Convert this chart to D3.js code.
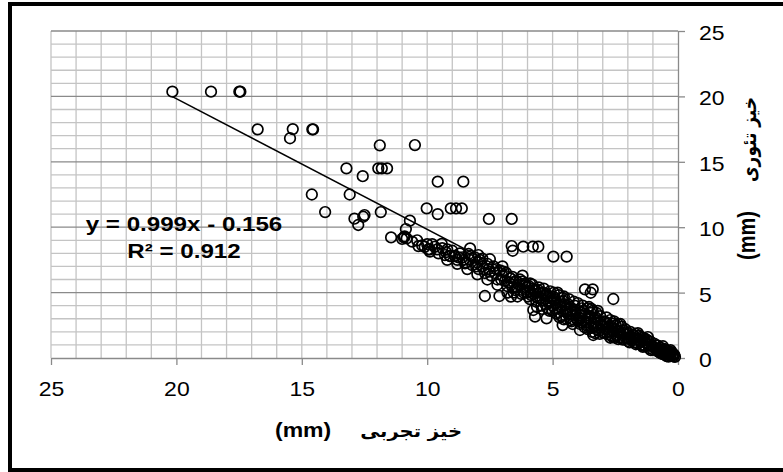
<!DOCTYPE html>
<meta charset="utf-8">
<style>
body { margin: 0; background: #fff; }
text { font-family: "Liberation Sans", Arial, sans-serif; fill: #000; }
.fa { font-family: "DejaVu Sans", sans-serif; font-weight: bold; }
.grid-minor { stroke: #c4c4c4; stroke-width: 1.3; }
.grid-major { stroke: #8a8a8a; stroke-width: 1.3; }
.axis path, .axis line { stroke: #8a8a8a; stroke-width: 1.3; }
.dot { fill: none; stroke: #000; stroke-width: 1.7; }
</style>
<body>
<script src="https://d3js.org/d3.v7.min.js"></script>
<script>

// tick values for both axes
var xTicks = [25, 20, 15, 10, 5, 0];
var yTicks = [0, 5, 10, 15, 20, 25];

// trend line
var slope = 0.999, intercept = -0.156, rSquared = 0.912;

// titles
var xTitle = "خیز تجربی";
var yTitle = "خیز تئوری";
var unit = "(mm)";

// scattered points away from the main band [experimental, theoretical]
var outlierPoints = [
  [20.16,20.36],[18.62,20.36],[17.49,20.36],[17.45,20.36],[16.76,17.48],[15.36,17.5],[15.47,16.8],
  [14.58,17.48],[14.55,17.48],[11.89,16.26],[10.49,16.28],[13.22,14.5],[12.57,13.9],[11.95,14.5],
  [11.81,14.5],[11.6,14.5],[14.6,12.5],[13.09,12.5],[14.07,11.16],[12.9,10.65],[12.75,10.17],
  [12.55,10.8],[12.5,10.93],[11.85,11.16],[9.58,13.48],[8.56,13.48],[10.02,11.44],[9.58,11.0],
  [9.06,11.44],[8.85,11.44],[8.62,11.44],[7.54,10.63],[6.63,10.63],[10.69,10.5],[10.85,9.86],
  [11.44,9.22],[10.93,9.22],[10.82,9.15],[10.35,8.56],[9.96,8.3],[9.89,8.13],[9.42,8.72],
  [9.29,7.87],[9.09,7.8],[8.89,7.8],[8.29,8.38],[7.96,7.87],[7.5,7.55],[6.63,8.56],[6.59,8.2],
  [6.17,8.51],[5.79,8.51],[5.57,8.51],[4.97,7.75],[4.44,7.75],[7.7,4.74],[7.12,4.74],[6.66,4.69],
  [2.58,4.51],[3.71,5.25],[3.4,5.25],[3.48,4.99],[5.7,3.16],[5.24,3.03],[4.6,2.52],[3.91,2.14],
  [3.38,1.76],[5.77,3.67],[8.49,7.24]
];

// dense band of points along the trend [experimental, theoretical]
var bandPoints = [
  [0.12,0.08],[0.2,0.3],[0.25,0.45],[0.3,0.2],[0.35,0.35],[0.4,0.55],[0.45,0.15],[0.5,0.4],
  [0.55,0.7],[0.6,0.3],[0.65,0.55],[0.7,0.8],[0.75,0.45],[0.8,0.95],[0.85,0.6],[0.9,0.75],
  [0.95,1.1],[1.0,0.65],[0.3,0.6],[0.6,0.9],[0.15,0.25],[0.4,0.25],[0.8,0.5],
  [1.05,0.9],[1.1,1.25],[1.15,0.75],[1.2,1.05],[1.25,1.4],[1.3,0.9],[1.35,1.2],[1.4,1.55],
  [1.45,1.0],[1.5,1.3],[1.55,1.7],[1.6,1.1],[1.65,1.45],[1.7,1.85],[1.75,1.2],[1.8,1.6],
  [1.85,1.35],[1.9,2.0],[1.95,1.5],[2.0,1.3],[1.2,1.6],[1.6,1.9],[1.4,0.85],
  [2.05,1.8],[2.1,2.2],[2.15,1.45],[2.2,1.95],[2.25,2.4],[2.3,1.6],[2.35,2.1],[2.4,2.6],
  [2.45,1.7],[2.5,2.2],[2.55,2.8],[2.6,1.6],[2.65,2.4],[2.7,2.9],[2.75,2.0],[2.8,2.6],
  [2.85,3.1],[2.9,2.2],[2.95,2.8],[3.0,1.95],[2.3,2.6],[2.8,1.8],[2.2,1.4],[2.5,1.55],
  [3.05,2.5],[3.1,3.2],[3.15,2.1],[3.2,2.9],[3.25,3.45],[3.3,2.4],[3.35,3.0],[3.4,3.6],
  [3.45,2.3],[3.5,3.2],[3.55,2.7],[3.6,3.8],[3.65,2.5],[3.7,3.4],[3.75,2.9],[3.8,4.0],
  [3.85,2.7],[3.9,3.5],[3.95,3.1],[4.0,4.2],[3.3,1.9],[3.6,2.2],[3.9,2.6],[3.2,3.6],[3.55,3.9],
  [4.05,3.0],[4.1,3.7],[4.15,4.3],[4.2,3.3],[4.25,2.8],[4.3,3.9],[4.35,4.5],[4.4,3.4],
  [4.45,3.0],[4.5,4.1],[4.55,4.7],[4.6,3.6],[4.65,3.2],[4.7,4.3],[4.75,4.8],[4.8,3.8],
  [4.85,3.4],[4.9,4.5],[4.95,5.0],[5.0,4.0],[4.3,2.9],[4.6,4.6],[4.8,5.0],[5.0,3.6],
  [5.05,4.6],[5.1,5.1],[5.15,4.2],[5.2,3.8],[5.3,4.8],[5.35,5.3],[5.4,4.4],[5.45,4.0],
  [5.5,5.0],[5.55,5.4],[5.6,4.6],[5.65,4.3],[5.7,5.2],[5.8,5.6],[5.85,4.8],[5.9,4.5],
  [5.95,5.5],[6.0,5.0],[5.25,4.9],[5.75,4.9],
  [6.1,5.7],[6.2,5.2],[6.25,4.9],[6.3,6.0],[6.4,5.4],[6.45,5.9],[6.5,5.2],[6.6,6.2],
  [6.65,5.6],[6.7,6.1],[6.8,5.5],[6.85,6.5],[6.9,5.9],[7.0,6.3],[6.55,5.0],
  [7.1,6.7],[7.2,6.0],[7.3,6.5],[7.35,7.0],[7.45,6.3],[7.55,6.8],[7.6,7.2],[7.7,6.5],
  [7.8,7.0],[7.9,7.5],[7.95,6.8],[8.0,7.3],
  [8.1,7.7],[8.2,7.1],[8.3,7.5],[8.35,7.95],[8.45,7.3],[8.6,7.7],[8.7,8.0],[8.8,7.5],
  [8.9,7.8],[9.0,8.2],
  [9.1,7.8],[9.25,8.1],[9.4,8.4],[9.55,8.0],[9.7,8.5],[9.9,8.3],[10.0,8.7],[10.2,8.6],
  [10.4,9.0],[10.6,8.9],[10.9,9.3],[11.0,9.1]
];

// more points filling the dense part of the band
var bandPoints2 = [
  [0.18,0.12],[0.28,0.4],[0.38,0.1],[0.48,0.6],[0.58,0.5],[0.68,0.35],[0.78,0.7],[0.88,0.95],
  [0.98,0.85],[0.22,0.2],[0.52,0.25],[0.72,0.6],
  [1.08,0.6],[1.18,1.3],[1.28,1.15],[1.38,0.95],[1.48,1.6],[1.58,1.35],[1.68,1.05],[1.78,1.75],
  [1.88,1.55],[1.98,1.9],[1.33,1.5],[1.73,1.5],[1.93,1.2],
  [2.08,1.55],[2.18,2.1],[2.28,1.85],[2.38,1.45],[2.48,2.5],[2.58,2.05],[2.68,1.75],[2.78,2.35],
  [2.88,2.75],[2.98,2.45],[2.4,2.0],[2.62,2.65],[2.92,1.9],[2.7,1.55],
  [3.08,2.75],[3.18,2.35],[3.28,3.1],[3.38,2.6],[3.48,3.45],[3.58,3.05],[3.68,2.75],[3.78,3.6],
  [3.88,3.25],[3.98,2.85],[3.12,1.85],[3.42,2.0],[3.72,2.35],[3.45,3.75],[3.85,3.8],[3.25,2.2],
  [4.08,3.45],[4.18,2.95],[4.28,3.6],[4.38,4.1],[4.48,3.55],[4.58,4.35],[4.68,3.9],[4.78,3.5],
  [4.88,4.2],[4.98,4.7],[4.12,4.0],[4.42,3.7],[4.72,3.1],[4.9,3.75],[4.2,2.6],[4.55,2.95],
  [5.08,4.3],[5.18,4.7],[5.28,4.1],[5.38,5.0],[5.48,4.6],[5.58,5.2],[5.68,4.7],[5.78,5.3],
  [5.88,5.1],[5.98,4.7],[5.12,3.6],[5.42,3.75],[5.62,3.9],[5.9,5.7],
  [6.05,5.4],[6.15,5.0],[6.35,5.6],[6.55,5.8],[6.75,5.8],[6.95,6.6],[6.2,5.85],[6.6,5.4],
  [7.05,6.0],[7.25,6.8],[7.5,6.6],[7.75,6.8],[8.05,7.0],[8.25,7.8],[8.55,7.5],[8.75,7.7],
  [9.2,8.3],[9.6,8.3],[9.8,8.7],[10.1,8.5],
  [6.8,5.0],[7.2,5.6],[7.6,6.0],[8.0,6.4],[8.4,6.8],[8.8,7.2],[6.4,4.7],[9.2,7.5],
  [7.0,7.0],[7.8,7.6],[6.2,6.3]
];

var W = 783, H = 472;
var plot = {left: 51, right: 678, top: 31, bottom: 358};
var stretch = 1.15; // the original picture is a little wider than tall

var x = d3.scaleLinear().domain([25, 0]).range([plot.left, plot.right]);
var y = d3.scaleLinear().domain([0, 25]).range([plot.bottom, plot.top]);

var svg = d3.select("body").append("svg")
    .attr("width", W)
    .attr("height", H);

svg.append("rect").attr("width", W).attr("height", H).attr("fill", "#fff");

// minor gridlines every 1 mm
var units = d3.range(0, 26);
svg.append("g").selectAll("line.v")
    .data(units.filter(function(d) { return d > 0; }))
  .enter().append("line")
    .attr("class", "grid-minor")
    .attr("x1", x).attr("x2", x)
    .attr("y1", plot.top).attr("y2", plot.bottom);

svg.append("g").selectAll("line.h")
    .data(units.filter(function(d) { return d % 5 != 0; }))
  .enter().append("line")
    .attr("class", "grid-minor")
    .attr("x1", plot.left).attr("x2", plot.right)
    .attr("y1", y).attr("y2", y);

// major horizontal gridlines
svg.append("g").selectAll("line")
    .data(yTicks.filter(function(d) { return d > 0; }))
  .enter().append("line")
    .attr("class", "grid-major")
    .attr("x1", plot.left).attr("x2", plot.right)
    .attr("y1", y).attr("y2", y);

// axes
var xAxis = svg.append("g")
    .attr("class", "axis")
    .attr("transform", "translate(0," + plot.bottom + ")")
    .call(d3.axisBottom(x).tickValues(xTicks).tickSize(7).tickSizeOuter(0).tickPadding(17));
xAxis.selectAll("text")
    .attr("font-size", 20)
    .attr("font-family", "Liberation Sans, Arial, sans-serif")
    .attr("transform", "scale(" + stretch + ",1)");

var yAxis = svg.append("g")
    .attr("class", "axis")
    .attr("transform", "translate(" + plot.right + ",0)")
    .call(d3.axisRight(y).tickValues(yTicks).tickSize(7).tickSizeOuter(0));
yAxis.selectAll("text")
    .attr("x", 0)
    .attr("dy", "0.42em")
    .attr("font-size", 20)
    .attr("font-family", "Liberation Sans, Arial, sans-serif")
    .attr("transform", "translate(21,0) scale(" + stretch + ",1)");

// points
var allPoints = outlierPoints.concat(bandPoints, bandPoints2);
svg.append("g").selectAll(".dot")
    .data(allPoints)
  .enter().append("circle")
    .attr("class", "dot")
    .attr("r", 5.3)
    .attr("cx", function(d) { return x(d[0]); })
    .attr("cy", function(d) { return y(d[1]); });

// trend line across the data range
var xExt = d3.extent(allPoints, function(d) { return d[0]; });
svg.append("line")
    .attr("x1", x(xExt[1])).attr("y1", y(slope * xExt[1] + intercept))
    .attr("x2", x(xExt[0])).attr("y2", y(slope * xExt[0] + intercept))
    .attr("stroke", "#000")
    .attr("stroke-width", 1.5);

// equation
var eq = svg.append("g").attr("transform", "translate(184,0)");
eq.append("text")
    .attr("transform", "translate(0,231) scale(" + stretch + ",1)")
    .attr("text-anchor", "middle")
    .attr("font-size", 21)
    .attr("font-weight", "bold")
    .text("y = " + slope + "x - " + Math.abs(intercept));
eq.append("text")
    .attr("transform", "translate(0,258) scale(" + stretch + ",1)")
    .attr("text-anchor", "middle")
    .attr("font-size", 21)
    .attr("font-weight", "bold")
    .text("R² = " + rSquared);

// x title
svg.append("text")
    .attr("transform", "translate(275,437) scale(" + stretch + ",1)")
    .attr("font-size", 20)
    .attr("font-weight", "bold")
    .text(unit);
svg.append("text")
    .attr("class", "fa")
    .attr("transform", "translate(462,437) scale(" + stretch + ",1)")
    .attr("text-anchor", "start")
    .attr("direction", "rtl")
    .attr("font-size", 17)
    .text(xTitle);

// y title (rotated)
svg.append("text")
    .attr("transform", "translate(755,260) rotate(-90) scale(1," + stretch + ")")
    .attr("font-size", 20)
    .attr("font-weight", "bold")
    .text(unit);
svg.append("text")
    .attr("class", "fa")
    .attr("transform", "translate(756,97) rotate(-90) scale(1," + stretch + ")")
    .attr("text-anchor", "start")
    .attr("direction", "rtl")
    .attr("font-size", 17)
    .text(yTitle);

// outer frame
svg.append("rect")
    .attr("x", 10).attr("y", 4)
    .attr("width", 800).attr("height", 466)
    .attr("fill", "none")
    .attr("stroke", "#000")
    .attr("stroke-width", 4);

</script>
